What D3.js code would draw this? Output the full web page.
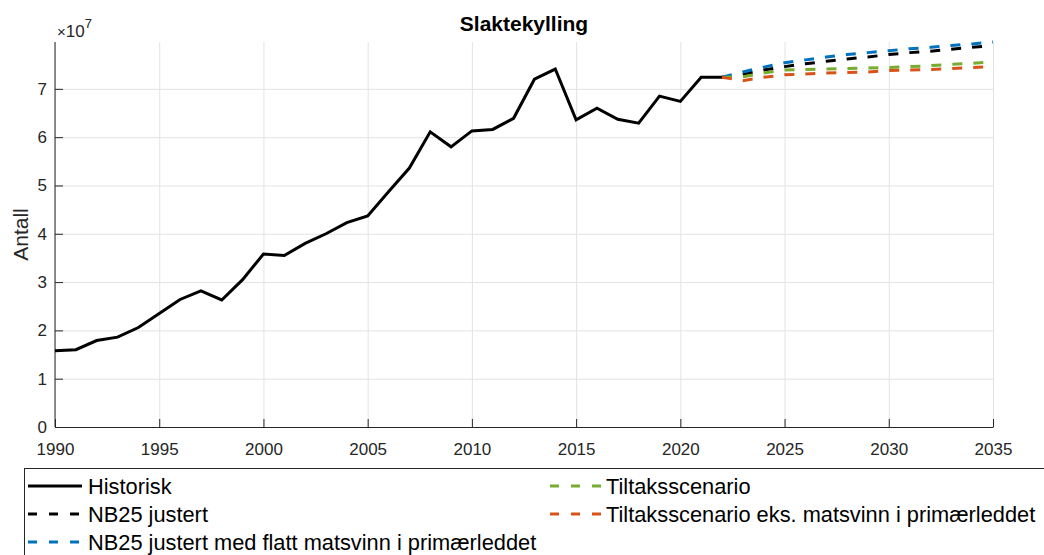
<!DOCTYPE html>
<html lang="no">
<head>
<meta charset="UTF-8">
<title>Slaktekylling</title>
<script src="https://d3js.org/d3.v7.min.js"></script>
<style>
  html, body { margin: 0; padding: 0; background: #fff; overflow: hidden; }
  svg { display: block; font-family: "Liberation Sans", Arial, Helvetica, sans-serif; }
  .grid line { stroke: #e3e3e3; stroke-width: 1; }
  .grid path { display: none; }
  .axis path, .axis line { stroke: #262626; }
  .axis text { fill: #262626; font-size: 17px; }
</style>
</head>
<body>
<div id="chart"></div>
<script>
// historical data
const histYears = [1990, 1991, 1992, 1993, 1994, 1995, 1996, 1997, 1998, 1999,
  2000, 2001, 2002, 2003, 2004, 2005, 2006, 2007, 2008, 2009,
  2010, 2011, 2012, 2013, 2014, 2015, 2016, 2017, 2018, 2019,
  2020, 2021, 2022];
const historisk = [15800000, 16000000, 17900000, 18600000, 20600000, 23500000, 26400000, 28200000, 26300000, 30500000,
  35800000, 35500000, 38000000, 40000000, 42300000, 43700000, 48700000, 53600000, 61100000, 58000000,
  61300000, 61600000, 63900000, 72000000, 74100000, 63600000, 66000000, 63700000, 62900000, 68500000,
  67400000, 72400000, 72400000];

// projections
const projYears = [2022, 2023, 2024, 2025, 2026, 2027, 2028, 2029, 2030, 2031, 2032, 2033, 2034, 2035];
const nb25Justert = [72400000, 73000000, 73900000, 74600000, 75200000, 75700000, 76200000, 76600000, 77100000, 77500000, 77800000, 78200000, 78600000, 79000000];
const nb25Flatt = [72400000, 73500000, 74500000, 75400000, 76000000, 76600000, 77100000, 77500000, 77900000, 78300000, 78600000, 79000000, 79300000, 79700000];
const tiltak = [72400000, 72500000, 73300000, 73900000, 74000000, 74100000, 74200000, 74300000, 74400000, 74600000, 74800000, 75100000, 75300000, 75600000];
const tiltakEks = [72400000, 71700000, 72400000, 72900000, 73100000, 73300000, 73400000, 73500000, 73800000, 73900000, 74000000, 74200000, 74400000, 74600000];

const xTicks = [1990, 1995, 2000, 2005, 2010, 2015, 2020, 2025, 2030, 2035];
const yTicks = [0, 1, 2, 3, 4, 5, 6, 7];

const legendNames = ["Historisk", "NB25 justert", "NB25 justert med flatt matsvinn i primærleddet",
  "Tiltaksscenario", "Tiltaksscenario eks. matsvinn i primærleddet"];

const W = 1044, H = 555;
const margin = {top: 42, right: 51, bottom: 128, left: 55};
const width = W - margin.left - margin.right,
      height = H - margin.top - margin.bottom;

const svg = d3.select("#chart").append("svg")
    .attr("width", W)
    .attr("height", H);

const g = svg.append("g")
    .attr("transform", `translate(${margin.left},${margin.top})`);

const x = d3.scaleLinear().domain([1990, 2035]).range([0, width]);
const y = d3.scaleLinear().domain([0, 7.97]).range([height, 0]);

// grid
g.append("g").attr("class", "grid")
    .attr("transform", `translate(0,${height})`)
    .call(d3.axisBottom(x).tickValues(xTicks).tickSize(-height).tickFormat(""));
g.append("g").attr("class", "grid")
    .call(d3.axisLeft(y).tickValues(yTicks).tickSize(-width).tickFormat(""));

// axes (ticks point inwards)
g.append("g").attr("class", "axis")
    .attr("transform", `translate(0,${height})`)
    .call(d3.axisBottom(x).tickValues(xTicks).tickSizeInner(-8).tickSizeOuter(0).tickPadding(16).tickFormat(d3.format("d")));
const yAxis = g.append("g").attr("class", "axis")
    .call(d3.axisLeft(y).tickValues(yTicks).tickSizeInner(-8).tickSizeOuter(0).tickPadding(8).tickFormat(d3.format("d")));
yAxis.select(".domain").attr("d", `M0,${height}V0`);

// exponent label
const expo = svg.append("text")
    .attr("x", 57).attr("y", 37)
    .attr("fill", "#262626")
    .style("font-size", "17px");
expo.append("tspan").text("\u00d7").style("font-size", "15px");
expo.append("tspan").text("10");
expo.append("tspan").text("7").attr("dy", -9).style("font-size", "13px");

// title and y label
svg.append("text")
    .attr("x", margin.left + width / 2).attr("y", 31)
    .attr("text-anchor", "middle")
    .style("font-size", "21px").style("font-weight", "bold")
    .attr("fill", "#000")
    .text("Slaktekylling");

svg.append("text")
    .attr("transform", `translate(28,${margin.top + height / 2}) rotate(-90)`)
    .attr("text-anchor", "middle")
    .style("font-size", "21px")
    .attr("fill", "#262626")
    .text("Antall");

// lines
const line = (xs) => d3.line()
    .x((d, i) => x(xs[i]))
    .y(d => y(d / 1e7));

const series = [
  {values: historisk, years: histYears, color: "#000000", dash: null},
  {values: nb25Justert, years: projYears, color: "#000000", dash: "10,11"},
  {values: nb25Flatt, years: projYears, color: "#0072BD", dash: "10,11"},
  {values: tiltak, years: projYears, color: "#77AC30", dash: "10,11"},
  {values: tiltakEks, years: projYears, color: "#D95319", dash: "10,11"}
];

series.forEach(s => {
  g.append("path")
      .datum(s.values)
      .attr("fill", "none")
      .attr("stroke", s.color)
      .attr("stroke-width", 3)
      .attr("stroke-dasharray", s.dash)
      .attr("d", line(s.years));
});

// legend
const lg = svg.append("g");
lg.append("rect")
    .attr("x", 24.5).attr("y", 468.5)
    .attr("width", 1100).attr("height", 120)
    .attr("fill", "#fff")
    .attr("stroke", "#262626");

const legendPos = [
  {x: 28, tx: 88, y: 486}, {x: 28, tx: 88, y: 514}, {x: 28, tx: 88, y: 542},
  {x: 550, tx: 606, y: 486}, {x: 550, tx: 606, y: 514}
];

series.forEach((s, i) => {
  const p = legendPos[i];
  lg.append("line")
      .attr("x1", p.x).attr("x2", p.x + 54)
      .attr("y1", p.y).attr("y2", p.y)
      .attr("stroke", s.color)
      .attr("stroke-width", 3)
      .attr("stroke-dasharray", s.dash ? "9,12" : null);
  lg.append("text")
      .attr("x", p.tx).attr("y", p.y)
      .attr("dy", "0.35em")
      .style("font-size", "21.8px")
      .attr("fill", "#000")
      .text(legendNames[i]);
});
</script>
</body>
</html>
